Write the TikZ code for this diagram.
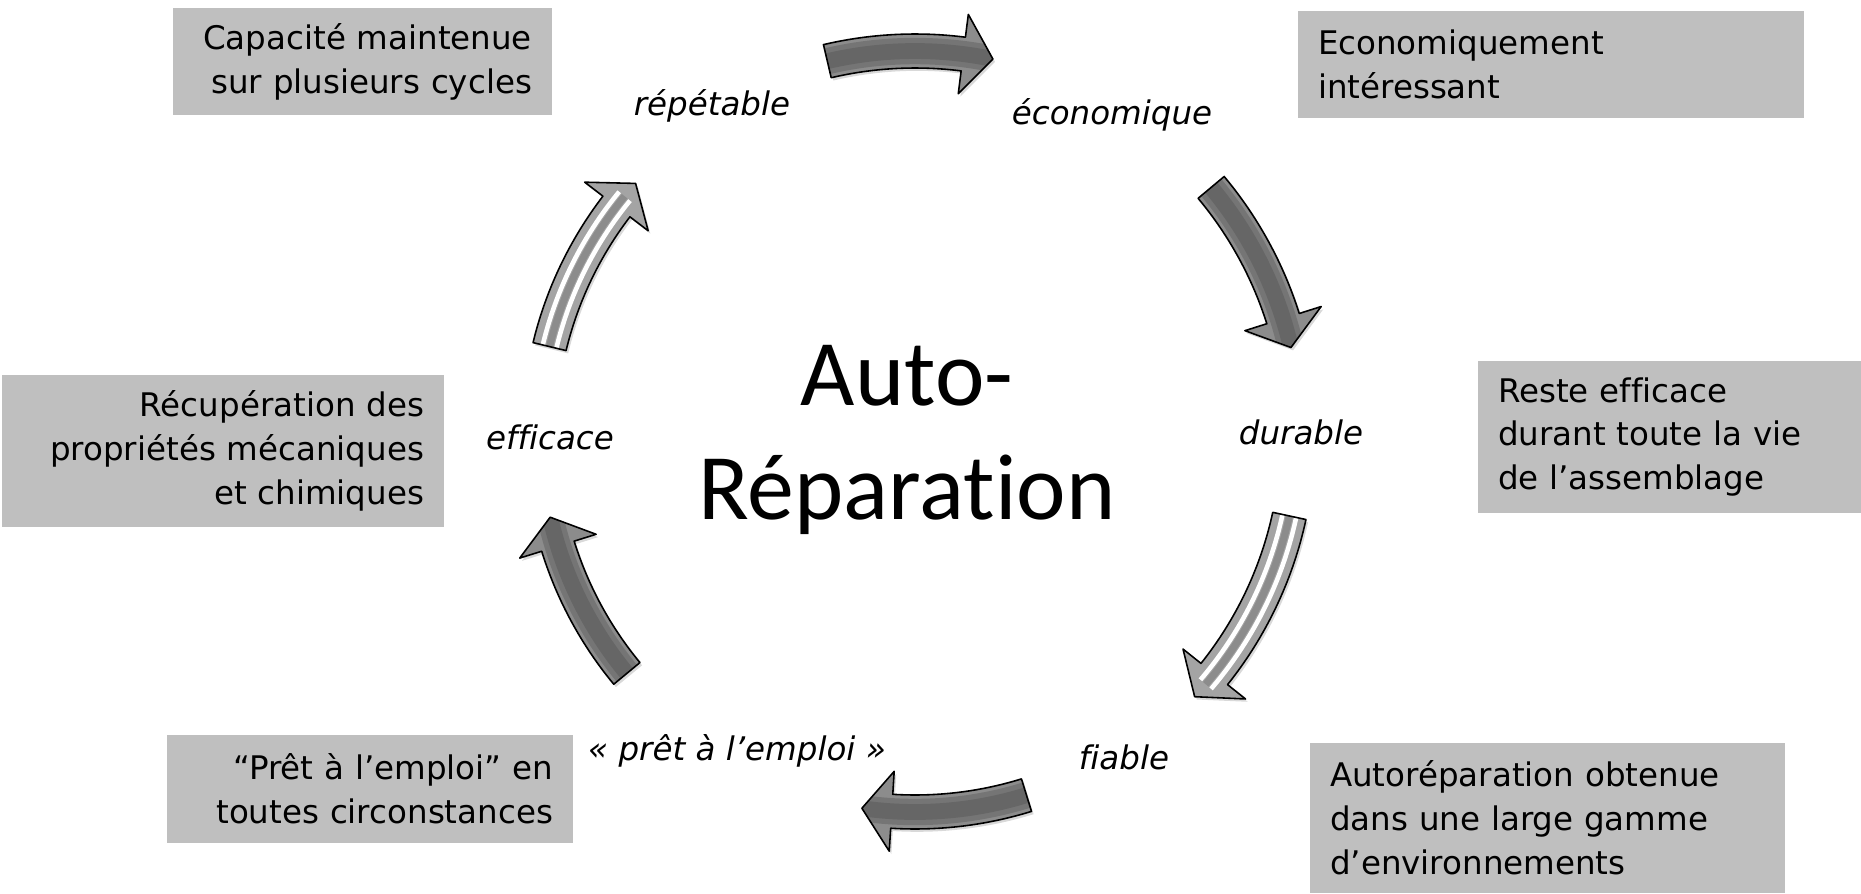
\documentclass[tikz,border=0pt]{standalone}
\usepackage{fontspec}
\setmainfont[Ligatures=CommonOff]{DejaVu Sans}
\newfontfamily\titlefont[Ligatures=CommonOff]{Carlito}
\usepackage{tikz}
\usetikzlibrary{positioning}
\usetikzlibrary{calc}
\usetikzlibrary{shadows}

\definecolor{boxgrey}{HTML}{BFBFBF}
\definecolor{arrowdark}{HTML}{666666}
\definecolor{arrowmid}{HTML}{8C8C8C}
\definecolor{arrowlight}{HTML}{A4A4A4}

\tikzset{
  greybox/.style={fill=boxgrey, inner xsep=11.4pt, inner ysep=0pt, font=\fontsize{18.5}{25}\selectfont},
  cyclelabel/.style={inner sep=2pt, font=\fontsize{18.5}{25}\selectfont\itshape},
  arrowedge/.style={draw=black, line width=0.9pt, line join=round},
  arrowfill/.style={fill=arrowmid, drop shadow={shadow xshift=1.2pt, shadow yshift=-1.6pt, opacity=0.3}},
}

% outline of a bent block arrow: tail angle, tip angle, radius, head angle
\newcommand{\arrowpath}[4]{(#1:{#3+17}) arc[start angle=#1, end angle=#4, radius={#3+17}] -- (#4:{#3+40}) -- (#2:#3) -- (#4:{#3-40}) -- (#4:{#3-17}) arc[start angle=#4, end angle=#1, radius={#3-17}] -- cycle}

\newcommand{\darkarrow}[3]{%
  \pgfmathsetmacro{\hd}{#2+30/#3*57.2958}
  \path[arrowfill] \arrowpath{#1}{#2}{#3}{\hd};
  \begin{scope}
    \clip \arrowpath{#1}{#2}{#3}{\hd};
    \draw[arrowdark!60!arrowmid, line width=15pt] (#1:#3) arc[start angle=#1, end angle=#2, radius=#3];
    \draw[arrowdark, line width=9pt] (#1:#3) arc[start angle=#1, end angle=#2, radius=#3];
  \end{scope}
  \path[arrowedge] \arrowpath{#1}{#2}{#3}{\hd};
}

\newcommand{\stripearrow}[3]{%
  \pgfmathsetmacro{\hd}{#2+30/#3*57.2958}
  \pgfmathsetmacro{\hs}{\hd-2}
  \path[arrowfill, fill=arrowlight] \arrowpath{#1}{#2}{#3}{\hd};
  \begin{scope}
    \clip \arrowpath{#1}{#2}{#3}{\hd};
    \draw[arrowmid, line width=4pt] (#1:#3) arc[start angle=#1, end angle=\hs, radius=#3];
    \draw[white, line width=2.6pt] (#1:{#3+7}) arc[start angle=#1, end angle=\hs, radius={#3+7}];
    \draw[white, line width=2.6pt] (#1:{#3-7}) arc[start angle=#1, end angle=\hs, radius={#3-7}];
  \end{scope}
  \path[arrowedge] \arrowpath{#1}{#2}{#3}{\hd};
}

\begin{document}
\begin{tikzpicture}[x=0.02cm, y=0.02cm]
\useasboundingbox (0,0) rectangle (1861,-893);

% grey boxes
\node[greybox, text width=192.9pt, minimum height=60.9pt, align=right] (capa) at (362.5,-61.5) {Capacité maintenue\\sur plusieurs cycles};
\node[greybox, text width=265.2pt, minimum height=60.9pt, align=left] (econ) at (1551,-64.5) {Economiquement\\intéressant};
\node[greybox, text width=195.2pt, minimum height=86.5pt, align=left] (reste) at (1669.5,-437) {Reste efficace\\durant toute la vie\\de l’assemblage};
\node[greybox, text width=247.5pt, minimum height=85.4pt, align=left] (autor) at (1547.5,-818) {Autoréparation obtenue\\dans une large gamme\\d’environnements};
\node[greybox, text width=208.3pt, minimum height=61.5pt, align=right] (pretbox) at (370,-789) {“Prêt à l’emploi” en\\toutes circonstances};
\node[greybox, text width=228.8pt, minimum height=86.5pt, align=right] (recup) at (223,-451) {Récupération des\\propriétés mécaniques\\et chimiques};

% cycle
\node[font=\titlefont\fontsize{53.4}{65}\selectfont, align=center] (titre) at (907,-440) {Auto-\\Réparation};

\node[cyclelabel] (rep) at (712,-106) {répétable};
\node[cyclelabel] (eco) at (1112,-115) {économique};
\node[cyclelabel] (dur) at (1301,-432) {durable};
\node[cyclelabel] (fia) at (1124,-757) {fiable};
\node[cyclelabel] (pret) at (737,-751) {« prêt à l’emploi »};
\node[cyclelabel] (eff) at (550,-437) {efficace};

\begin{scope}[shift={(915,-435)}]
\darkarrow{103.2}{78.3}{384}
\darkarrow{39.9}{13.1}{386}
\stripearrow{-12.2}{-43.1}{383}
\darkarrow{-72.8}{-98.1}{377}
\darkarrow{-140.4}{-167.3}{374}
\stripearrow{166.4}{138}{376}
\end{scope}
\end{tikzpicture}
\end{document}
